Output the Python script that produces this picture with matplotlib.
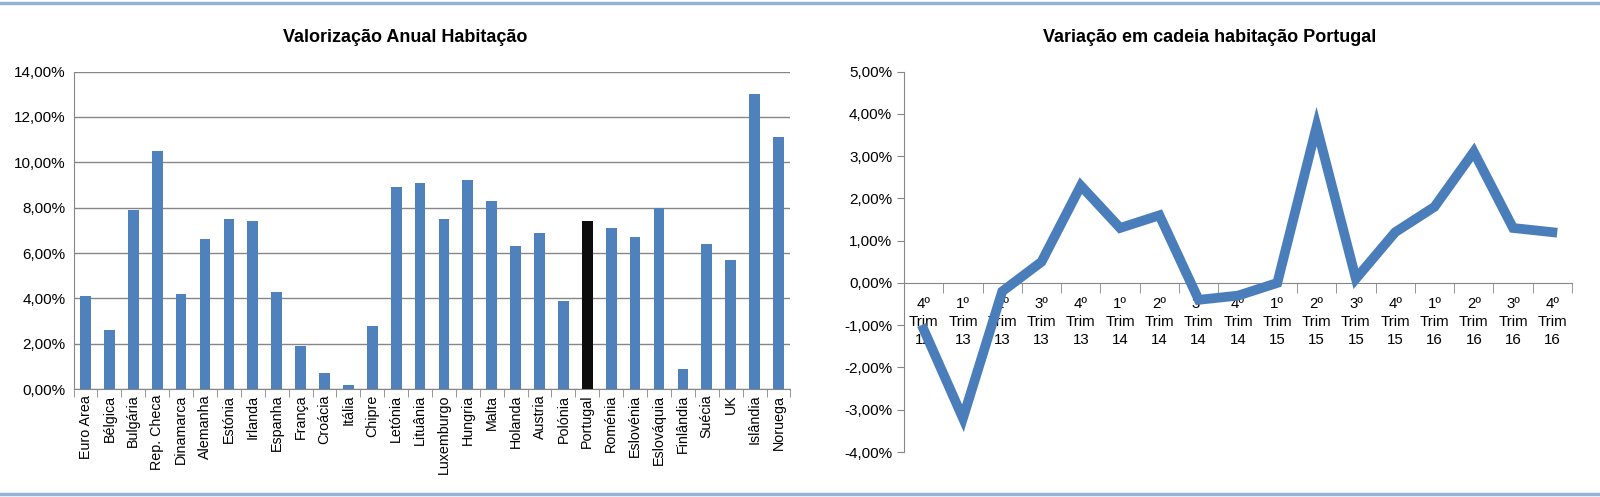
import numpy as np
import matplotlib
matplotlib.use("Agg")
import matplotlib.pyplot as plt
from matplotlib.lines import Line2D
from matplotlib.ticker import FuncFormatter, FixedLocator

plt.rcParams['font.family'] = ['Liberation Sans Narrow', 'Liberation Sans', 'DejaVu Sans']

paises = ["Euro Area", "Bélgica", "Bulgária", "Rep. Checa", "Dinamarca", "Alemanha",
          "Estónia", "Irlanda", "Espanha", "França", "Croácia", "Itália", "Chipre",
          "Letónia", "Lituânia", "Luxemburgo", "Hungria", "Malta", "Holanda", "Austria",
          "Polónia", "Portugal", "Roménia", "Eslovénia", "Eslováquia", "Finlândia",
          "Suécia", "UK", "Islândia", "Noruega"]
valorizacao = [4.1, 2.6, 7.9, 10.5, 4.2, 6.6, 7.5, 7.4, 4.3, 1.9, 0.7, 0.2, 2.8,
               8.9, 9.1, 7.5, 9.2, 8.3, 6.3, 6.9, 3.9, 7.4, 7.1, 6.7, 8.0, 0.9,
               6.4, 5.7, 13.0, 11.1]

trimestres = ["4º\nTrim\n12", "1º\nTrim\n13", "2º\nTrim\n13", "3º\nTrim\n13", "4º\nTrim\n13",
              "1º\nTrim\n14", "2º\nTrim\n14", "3º\nTrim\n14", "4º\nTrim\n14",
              "1º\nTrim\n15", "2º\nTrim\n15", "3º\nTrim\n15", "4º\nTrim\n15",
              "1º\nTrim\n16", "2º\nTrim\n16", "3º\nTrim\n16", "4º\nTrim\n16"]
variacao = [-1.1, -3.2, -0.2, 0.5, 2.3, 1.3, 1.6, -0.4, -0.3, 0.0, 3.7, 0.1,
            1.2, 1.8, 3.1, 1.3, 1.2]

azul = "#4F81BD"
cinza = "#868686"

def pct(v, pos):
    return ("%.2f%%" % v).replace(".", ",")

fig = plt.figure(figsize=(16, 4.97), dpi=100)

# --- barras ---
ax1 = fig.add_axes([0.046, 0.217, 0.448, 0.639])
x = np.arange(len(paises))
cores = ["#0D0D0D" if p == "Portugal" else azul for p in paises]
ax1.bar(x, valorizacao, width=0.45, color=cores, zorder=3)
ax1.set_xlim(-0.5, len(paises) - 0.5)
ax1.set_ylim(0, 14)
ax1.set_yticks(np.arange(0, 15, 2))
ax1.yaxis.set_major_formatter(FuncFormatter(pct))
ax1.grid(axis="y", color=cinza, lw=1)
ax1.set_xticks(x)
ax1.set_xticklabels(paises, rotation=90, family=['Liberation Sans', 'DejaVu Sans'], fontsize=10.3)
ax1.xaxis.set_minor_locator(FixedLocator(np.arange(-0.5, len(paises), 1)))
ax1.tick_params(axis="x", which="major", length=0, pad=4)
ax1.tick_params(axis="x", which="minor", length=6, color=cinza)
ax1.tick_params(axis="y", length=0, labelsize=11, pad=6)
for s in ["top", "right"]:
    ax1.spines[s].set_visible(False)
for s in ["left", "bottom"]:
    ax1.spines[s].set_color(cinza)

fig.text(0.253, 0.924, "Valorização Anual Habitação", ha="center", va="center",
         fontsize=13, fontweight="bold")

# --- linha ---
ax2 = fig.add_axes([0.565, 0.0905, 0.4175, 0.7655])
t = np.arange(len(trimestres))
ax2.plot(t, variacao, color="#4A7EBB", lw=7, solid_joinstyle="miter", zorder=4)
ax2.set_xlim(-0.5, len(trimestres) - 0.5)
ax2.set_ylim(-4, 5)
ax2.set_yticks(np.arange(-4, 6, 1))
ax2.yaxis.set_major_formatter(FuncFormatter(pct))
ax2.spines["bottom"].set_position(("data", 0))
for s in ["top", "right"]:
    ax2.spines[s].set_visible(False)
for s in ["left", "bottom"]:
    ax2.spines[s].set_color(cinza)
ax2.set_xticks(t)
ax2.set_xticklabels(trimestres, fontsize=10.8, linespacing=1.35)
ax2.xaxis.set_minor_locator(FixedLocator(np.arange(-0.5, len(trimestres), 1)))
ax2.tick_params(axis="x", which="major", length=0, pad=10)
ax2.tick_params(axis="x", which="minor", length=7, color=cinza)
ax2.tick_params(axis="y", length=5, color=cinza, labelsize=11)

fig.text(0.756, 0.924, "Variação em cadeia habitação Portugal", ha="center", va="center",
         fontsize=13, fontweight="bold")

# linhas decorativas
for yy in [0.994, 0.006]:
    fig.add_artist(Line2D([0, 1], [yy, yy], transform=fig.transFigure,
                          color="#95B3D7", lw=2.5))

fig.savefig("out.png", dpi=100)
